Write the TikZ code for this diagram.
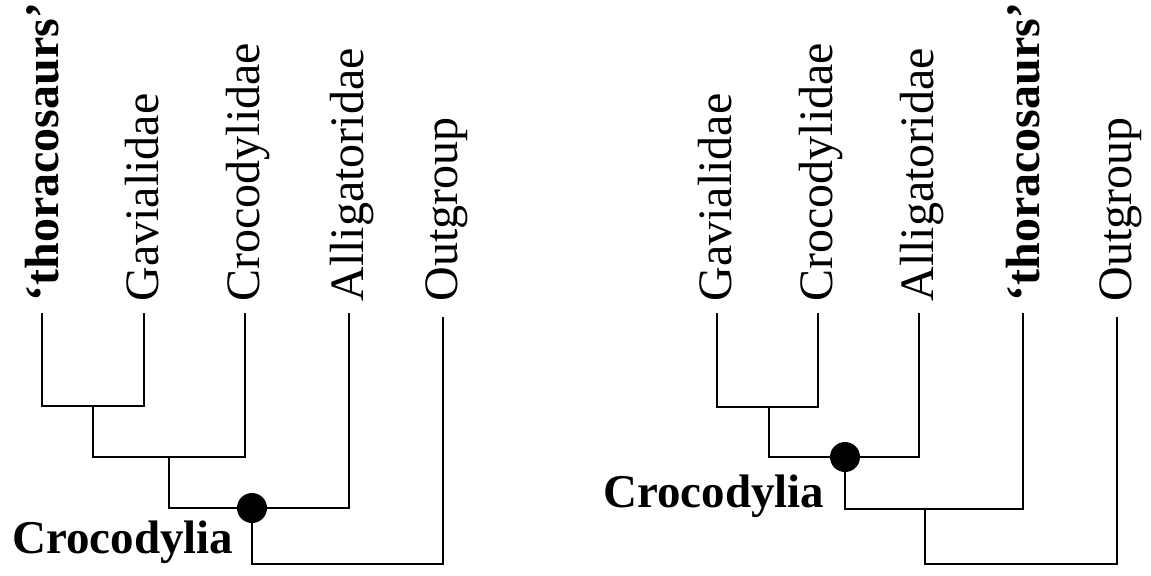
\documentclass[tikz,border=0pt]{standalone}
\usepackage{fontspec}
\setmainfont{Liberation Serif}
\usepackage{tikz}

\tikzset{
  taxon/.style={rotate=90, anchor=base west, inner sep=0pt, font=\fontsize{24}{28}\selectfont},
  boldtaxon/.style={taxon, font=\fontsize{24}{28}\selectfont\bfseries},
  clade/.style={anchor=base west, inner sep=0pt, font=\fontsize{23.5}{28}\selectfont\bfseries},
  branch/.style={line width=1.1pt},
  knot/.style={circle, fill=black, minimum size=15pt, inner sep=0pt}
}

\begin{document}
\begin{tikzpicture}[x=0.5pt,y=-0.5pt]
\useasboundingbox (0,0) rectangle (1151,575);

% left tree
\coordinate (la) at (42,313);
\coordinate (lb) at (144,313);
\coordinate (lc) at (245,313);
\coordinate (ld) at (349,313);
\coordinate (le) at (443,317);
\coordinate (l1) at (93,406);
\coordinate (l2) at (169,457);
\coordinate (l3) at (252,508);
\coordinate (l4) at (252,564);

\node[boldtaxon] (lthor) at ([xshift=8pt,yshift=5.5pt]la) {‘thoracosaurs’};
\node[taxon] (lgav) at ([xshift=7pt,yshift=5.5pt]lb) {Gavialidae};
\node[taxon] (lcro) at ([xshift=7pt,yshift=5.5pt]lc) {Crocodylidae};
\node[taxon] (lall) at ([xshift=7pt,yshift=5.5pt]ld) {Alligatoridae};
\node[taxon] (lout) at ([xshift=7pt,yshift=7.5pt]le) {Outgroup};

\draw[branch] (la) |- (l1) -| (lb);
\draw[branch] (l1) |- (l2) -| (lc);
\draw[branch] (l2) |- (l3) -| (ld);
\draw[branch] (l3) -- (l4) -| (le);
\node[knot] (lknot) at (l3) {};
\node[clade] (lcroc) at (12,553) {Crocodylia};

% right tree
\coordinate (ra) at (717,313);
\coordinate (rb) at (818,313);
\coordinate (rc) at (919,313);
\coordinate (rd) at (1023,313);
\coordinate (re) at (1117,317);
\coordinate (r1) at (769,407);
\coordinate (r2) at (845,457);
\coordinate (r3) at (925,509);
\coordinate (r4) at (925,564);

\node[taxon] (rgav) at ([xshift=7pt,yshift=5.5pt]ra) {Gavialidae};
\node[taxon] (rcro) at ([xshift=7pt,yshift=5.5pt]rb) {Crocodylidae};
\node[taxon] (rall) at ([xshift=7pt,yshift=5.5pt]rc) {Alligatoridae};
\node[boldtaxon] (rthor) at ([xshift=8pt,yshift=5.5pt]rd) {‘thoracosaurs’};
\node[taxon] (rout) at ([xshift=7pt,yshift=7.5pt]re) {Outgroup};

\draw[branch] (ra) |- (r1) -| (rb);
\draw[branch] (r1) |- (r2) -| (rc);
\draw[branch] (r2) |- (r3) -| (rd);
\draw[branch] (r3) -- (r4) -| (re);
\node[knot] (rknot) at (r2) {};
\node[clade] (rcroc) at (603,507) {Crocodylia};

\end{tikzpicture}
\end{document}
